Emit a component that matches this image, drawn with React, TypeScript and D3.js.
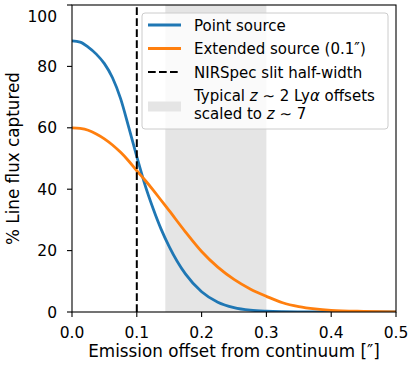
import React from "react";
import * as d3 from "d3";

// offsets in arcsec and % flux captured
const offsets = [0, 0.0125, 0.025, 0.0375, 0.05, 0.0625, 0.075, 0.0875, 0.1, 0.1125, 0.125, 0.1375, 0.15, 0.175, 0.2, 0.225, 0.25, 0.275, 0.3, 0.325, 0.35, 0.375, 0.4, 0.45, 0.5];
const pointSource = [88.3, 87.9, 86.3, 84.0, 80.9, 76.3, 69.5, 60.2, 50.6, 41.5, 33.8, 27.0, 21.3, 12.4, 6.6, 3.2, 1.45, 0.6, 0.25, 0.1, 0.04, 0.02, 0.01, 0, 0];
const extendedSource = [60.0, 59.8, 59.2, 58.0, 56.4, 54.4, 52.0, 49.2, 46.0, 43.0, 39.8, 36.4, 33.0, 26.1, 19.7, 14.6, 10.6, 7.5, 5.1, 3.0, 1.75, 1.0, 0.55, 0.2, 0.05];
const slitHalfWidth = 0.1;
const lyaOffsetRange = [0.144, 0.3];

const xTicks = [0, 0.1, 0.2, 0.3, 0.4, 0.5];
const yTicks = [0, 20, 40, 60, 80, 100];

const W = 415;
const H = 370;
const margin = { top: 5, right: 19, bottom: 58, left: 72 };
const font = "DejaVu Sans, sans-serif";
const tickFs = 15.5;
const labelFs = 16.8;
const legendFs = 15;

export default function App() {
  const x = d3.scaleLinear().domain([0, 0.5]).range([margin.left, W - margin.right]);
  const y = d3.scaleLinear().domain([0, 100]).range([H - margin.bottom, margin.top]);

  const line = (vals: number[]) =>
    d3
      .line<number>()
      .x((d, i) => x(offsets[i]))
      .y((d) => y(d))
      .curve(d3.curveMonotoneX)(vals) || "";

  const [x0, x1] = x.range();
  const [y0, y1] = y.range();

  // legend
  const lgX = 142;
  const lgY = 13;
  const hx0 = lgX + 6;
  const hx1 = lgX + 39;
  const tx = lgX + 52;

  return (
    <svg width={W} height={H} style={{ position: "absolute", left: 0, top: 0 }} fontFamily={font}>
      <rect width={W} height={H} fill="white" />
      <defs>
        <clipPath id="plot">
          <rect x={x0} y={y1} width={x1 - x0} height={y0 - y1} />
        </clipPath>
      </defs>
      <rect
        x={x(lyaOffsetRange[0])}
        y={y1}
        width={x(lyaOffsetRange[1]) - x(lyaOffsetRange[0])}
        height={y0 - y1}
        fill="#e5e5e5"
      />
      <g clipPath="url(#plot)">
        <path d={line(pointSource)} fill="none" stroke="#1f77b4" strokeWidth={2.8} />
        <path d={line(extendedSource)} fill="none" stroke="#ff7f0e" strokeWidth={2.8} />
      </g>
      <line x1={x(slitHalfWidth)} x2={x(slitHalfWidth)} y1={y0} y2={y1} stroke="black" strokeWidth={2} strokeDasharray="7.7,3.3" />

      {/* spines */}
      <rect x={x0} y={y1} width={x1 - x0} height={y0 - y1} fill="none" stroke="black" strokeWidth={1.1} />

      {/* x axis */}
      {xTicks.map((t) => (
        <g key={"x" + t}>
          <line x1={x(t)} x2={x(t)} y1={y0} y2={y0 + 5} stroke="black" strokeWidth={1.1} />
          <text x={x(t)} y={338} textAnchor="middle" fontSize={tickFs}>
            {t.toFixed(1)}
          </text>
        </g>
      ))}
      <text x={(x0 + x1) / 2} y={357} textAnchor="middle" fontSize={labelFs}>
        Emission offset from continuum [″]
      </text>

      {/* y axis */}
      {yTicks.map((t) => (
        <g key={"y" + t}>
          <line x1={x0 - 5} x2={x0} y1={y(t)} y2={y(t)} stroke="black" strokeWidth={1.1} />
          <text x={x0 - 15} y={Math.max(y(t), 16) + 5.5} textAnchor="end" fontSize={tickFs}>
            {t}
          </text>
        </g>
      ))}
      <text transform={`translate(18.5,${(y0 + y1) / 2}) rotate(-90)`} textAnchor="middle" fontSize={labelFs}>
        % Line flux captured
      </text>

      {/* legend */}
      <rect x={lgX} y={lgY} width={246} height={116} rx={3} fill="white" fillOpacity={0.8} stroke="#cccccc" strokeWidth={1} />
      <line x1={hx0} x2={hx1} y1={25} y2={25} stroke="#1f77b4" strokeWidth={2.8} />
      <text x={tx} y={30.5} fontSize={legendFs}>Point source</text>
      <line x1={hx0} x2={hx1} y1={48.5} y2={48.5} stroke="#ff7f0e" strokeWidth={2.8} />
      <text x={tx} y={54} fontSize={legendFs}>Extended source (0.1″)</text>
      <line x1={hx0} x2={hx1} y1={72} y2={72} stroke="black" strokeWidth={2} strokeDasharray="7.7,3.3" />
      <text x={tx} y={77.5} fontSize={legendFs}>NIRSpec slit half-width</text>
      <rect x={hx0} y={101.5} width={hx1 - hx0} height={10} fill="#e5e5e5" />
      <text x={tx} y={101} fontSize={legendFs}>
        Typical <tspan fontStyle="italic">z</tspan> ∼ 2 Ly<tspan fontStyle="italic">α</tspan> offsets
      </text>
      <text x={tx} y={119} fontSize={legendFs}>
        scaled to <tspan fontStyle="italic">z</tspan> ∼ 7
      </text>
    </svg>
  );
}
